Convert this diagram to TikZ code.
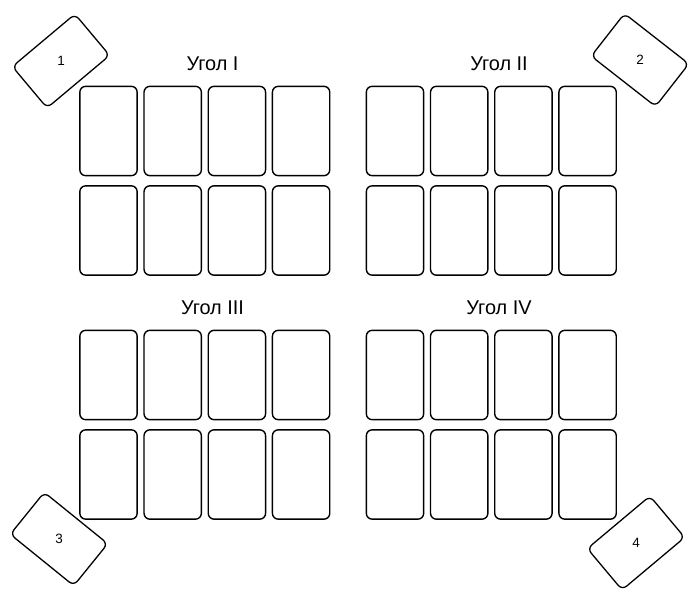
\documentclass[tikz,border=0pt]{standalone}
\usepackage{fontspec}
\setmainfont{Liberation Sans}
\usetikzlibrary{positioning}

\begin{document}
\begin{tikzpicture}[x=0.03cm, y=-0.03cm,
  card/.style={draw, line width=1.2pt, rounded corners=5pt, minimum width=1.72cm, minimum height=2.68cm, inner sep=0pt},
  corner card/.style={draw, line width=1.1pt, rounded corners=5pt, minimum width=2.45cm, minimum height=1.62cm, inner sep=0pt},
  group label/.style={font=\fontsize{17}{19}\selectfont},
  corner num/.style={font=\fontsize{11.5}{13}\selectfont}]

  \useasboundingbox (0,0) rectangle (690,593);

  % Four blocks of 2 x 4 cards
  \foreach \g/\gx/\gy in {I/108.5/131, II/395/131, III/108.5/375, IV/395/375} {
    \foreach \r in {0,1} {
      \foreach \c in {0,1,2,3} {
        \node[card] (card-\g-\r\c) at (\gx+64.2*\c, \gy+99.5*\r) {};
      }
    }
    \node[group label] (label-\g) at (\gx+104, \gy-67) {Угол \g};
  }

  % Tilted cards in the corners
  \foreach \n/\cx/\cy/\a in {1/61/61/40, 2/640/60/-38, 3/59/539/-39, 4/636/543/40} {
    \node[corner card, rotate=\a] (corner-\n) at (\cx,\cy) {};
    \node[corner num] (num-\n) at (corner-\n.center) {\n};
  }
\end{tikzpicture}
\end{document}
